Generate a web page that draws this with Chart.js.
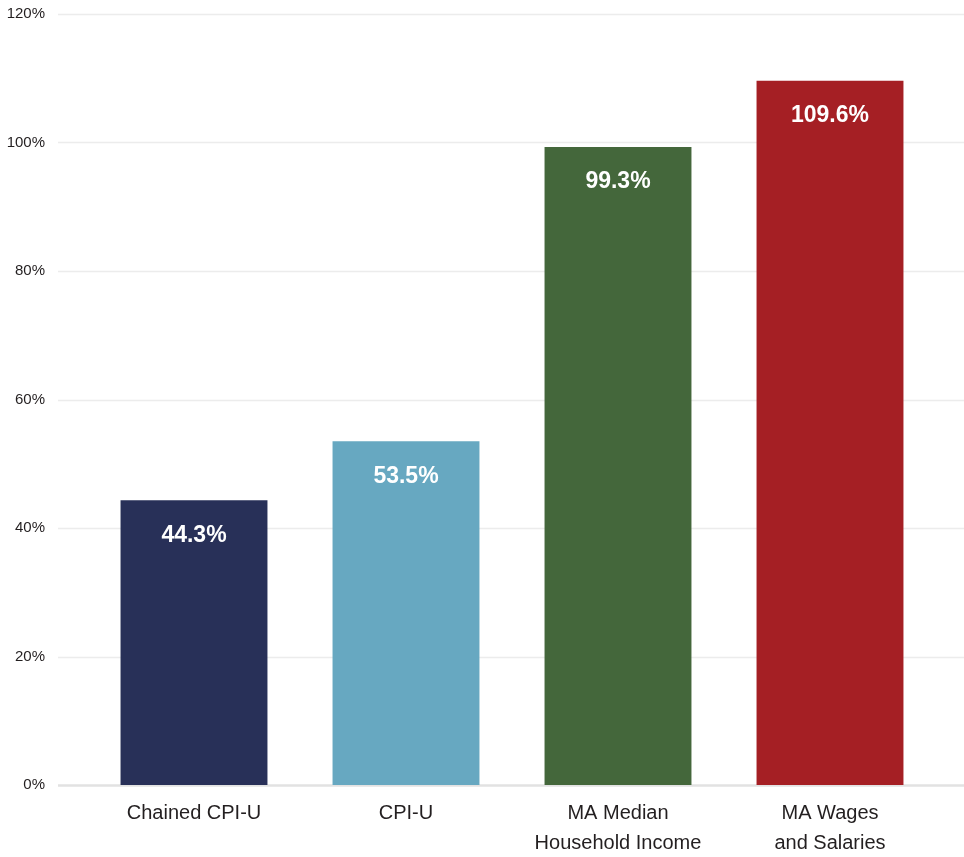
<!DOCTYPE html>
<html>
<head>
<meta charset="utf-8">
<script src="https://cdn.jsdelivr.net/npm/chart.js@4.4.1/dist/chart.umd.min.js"></script>
<style>
    html, body { margin: 0; padding: 0; background: #ffffff; }
    #wrap { width: 964px; height: 857px; position: relative; }
</style>
</head>
<body>
<div id="wrap"><canvas id="growthChart"></canvas></div>
<script>
const categories = [
    ["Chained CPI-U"],
    ["CPI-U"],
    ["MA Median", "Household Income"],
    ["MA Wages", "and Salaries"]
];
const growthValues = [44.3, 53.5, 99.3, 109.6];
const barColors = ["#283058", "#67a8c1", "#44673b", "#a51f24"];
const yTicks = [0, 20, 40, 60, 80, 100, 120];

// grid lines run the full width, past the plot area
const wideGrid = {
    id: "wideGrid",
    beforeDatasetsDraw: function (chart) {
        const ctx = chart.ctx;
        const y = chart.scales.y;
        ctx.save();
        yTicks.forEach(function (v) {
            const py = Math.round(y.getPixelForValue(v)) + 0.5;
            ctx.beginPath();
            ctx.strokeStyle = v === 0 ? "#e2e2e2" : "#ececec";
            ctx.lineWidth = v === 0 ? 2.5 : 1.5;
            ctx.moveTo(58, py);
            ctx.lineTo(chart.width, py);
            ctx.stroke();
        });
        ctx.restore();
    }
};

const valueLabels = {
    id: "valueLabels",
    afterDatasetsDraw: function (chart) {
        const ctx = chart.ctx;
        const meta = chart.getDatasetMeta(0);
        ctx.save();
        ctx.fillStyle = "#ffffff";
        ctx.font = "bold 23px 'Liberation Sans', Arial, sans-serif";
        ctx.textAlign = "center";
        ctx.textBaseline = "middle";
        meta.data.forEach(function (bar, i) {
            ctx.fillText(growthValues[i].toFixed(1) + "%", bar.x, bar.y + 35);
        });
        ctx.restore();
    }
};

document.addEventListener("DOMContentLoaded", function () {
    const canvas = document.getElementById("growthChart");
    new Chart(canvas.getContext("2d"), {
        type: "bar",
        data: {
            labels: categories,
            datasets: [
                {
                    data: growthValues,
                    backgroundColor: barColors,
                    borderWidth: 0,
                    categoryPercentage: 1,
                    barPercentage: 0.693
                }
            ]
        },
        options: {
            responsive: true,
            maintainAspectRatio: false,
            animation: false,
            layout: {
                padding: { top: 14, right: 28, bottom: 0, left: 0 }
            },
            scales: {
                x: {
                    grid: { display: false, drawTicks: false },
                    border: { display: false },
                    ticks: {
                        color: "#231f20",
                        padding: 13,
                        maxRotation: 0,
                        font: { family: "'Liberation Sans', Arial, sans-serif", size: 20, lineHeight: 1.5 }
                    },
                    afterFit: function (scale) { scale.height = 72; }
                },
                y: {
                    min: 0,
                    max: 120,
                    grid: { display: false, drawTicks: false },
                    border: { display: false },
                    ticks: {
                        stepSize: 20,
                        color: "#231f20",
                        padding: 43,
                        font: { family: "'Liberation Sans', Arial, sans-serif", size: 15 },
                        callback: function (v) { return v + "%"; }
                    },
                    afterFit: function (scale) {
                        scale.width = 88;
                        scale.paddingTop = 0;
                        scale.paddingBottom = 0;
                    }
                }
            },
            plugins: {
                legend: { display: false },
                tooltip: { enabled: false }
            }
        },
        plugins: [wideGrid, valueLabels]
    });
});
</script>
</body>
</html>
